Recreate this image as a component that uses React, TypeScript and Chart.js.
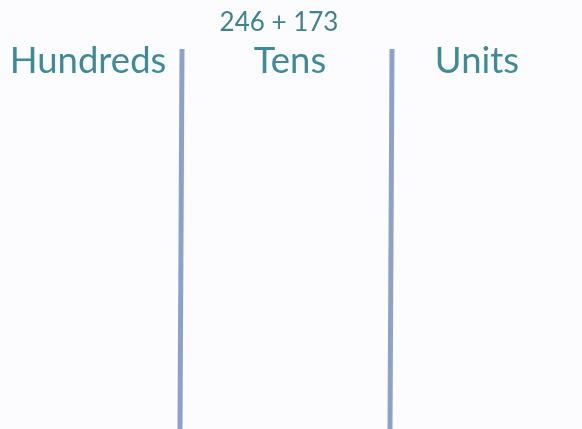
import { useRef, useEffect } from 'react';
import { Chart, registerables, type ChartConfiguration } from 'chart.js';

Chart.register(...registerables);

// place value columns (x in page pixels)
const columns = ['Hundreds', 'Tens', 'Units'];
const columnCenters = [88, 290, 477];
const dividerTopX = [182, 392];
const dividerBottomX = [180, 390];
const dividerTopY = 49;
const dividerBottomY = 429;
const sum = '246 + 173';
const sumCenter = 279;

const labelPlugin = {
    id: 'placeLabels',
    afterDatasetsDraw(chart: any) {
        const { ctx, scales } = chart;
        const x = scales.x;
        const y = scales.y;
        ctx.save();
        ctx.textAlign = 'center';
        ctx.textBaseline = 'middle';
        ctx.fillStyle = '#3f8a97';
        ctx.font = '36.5px Lato, "Open Sans", sans-serif';
        columns.forEach((name, i) => {
            ctx.fillText(name, x.getPixelForValue(columnCenters[i]), y.getPixelForValue(61));
        });
        ctx.fillStyle = '#40828d';
        ctx.font = '26px Lato, "Open Sans", sans-serif';
        ctx.fillText(sum, x.getPixelForValue(sumCenter), y.getPixelForValue(23));
        ctx.restore();
    }
};

export default function App() {
    const chartRef = useRef<HTMLCanvasElement>(null);

    useEffect(() => {
        document.body.style.margin = '0';
        document.body.style.background = '#fcfcfe';
        if (!chartRef.current) return;
        const config = {
            type: 'scatter',
            data: {
                datasets: dividerTopX.map((tx, i) => ({
                    data: [
                        { x: tx, y: dividerTopY },
                        { x: dividerBottomX[i], y: dividerBottomY }
                    ],
                    showLine: true,
                    borderColor: '#8da1c9',
                    borderWidth: 5,
                    pointRadius: 0,
                    borderCapStyle: 'butt'
                }))
            },
            options: {
                animation: false,
                responsive: false,
                layout: { padding: 0 },
                plugins: {
                    legend: { display: false },
                    tooltip: { enabled: false }
                },
                scales: {
                    x: { type: 'linear', min: 0, max: 582, display: false },
                    y: { type: 'linear', min: 0, max: 429, reverse: true, display: false }
                }
            },
            plugins: [labelPlugin]
        };
        const chart = new Chart(chartRef.current, config as unknown as ChartConfiguration);
        return () => {
            chart.destroy();
        };
    }, []);

    return (
        <div style={{ width: 582, height: 429, background: '#fcfcfe' }}>
            <canvas ref={chartRef} width={582} height={429}></canvas>
        </div>
    );
}
